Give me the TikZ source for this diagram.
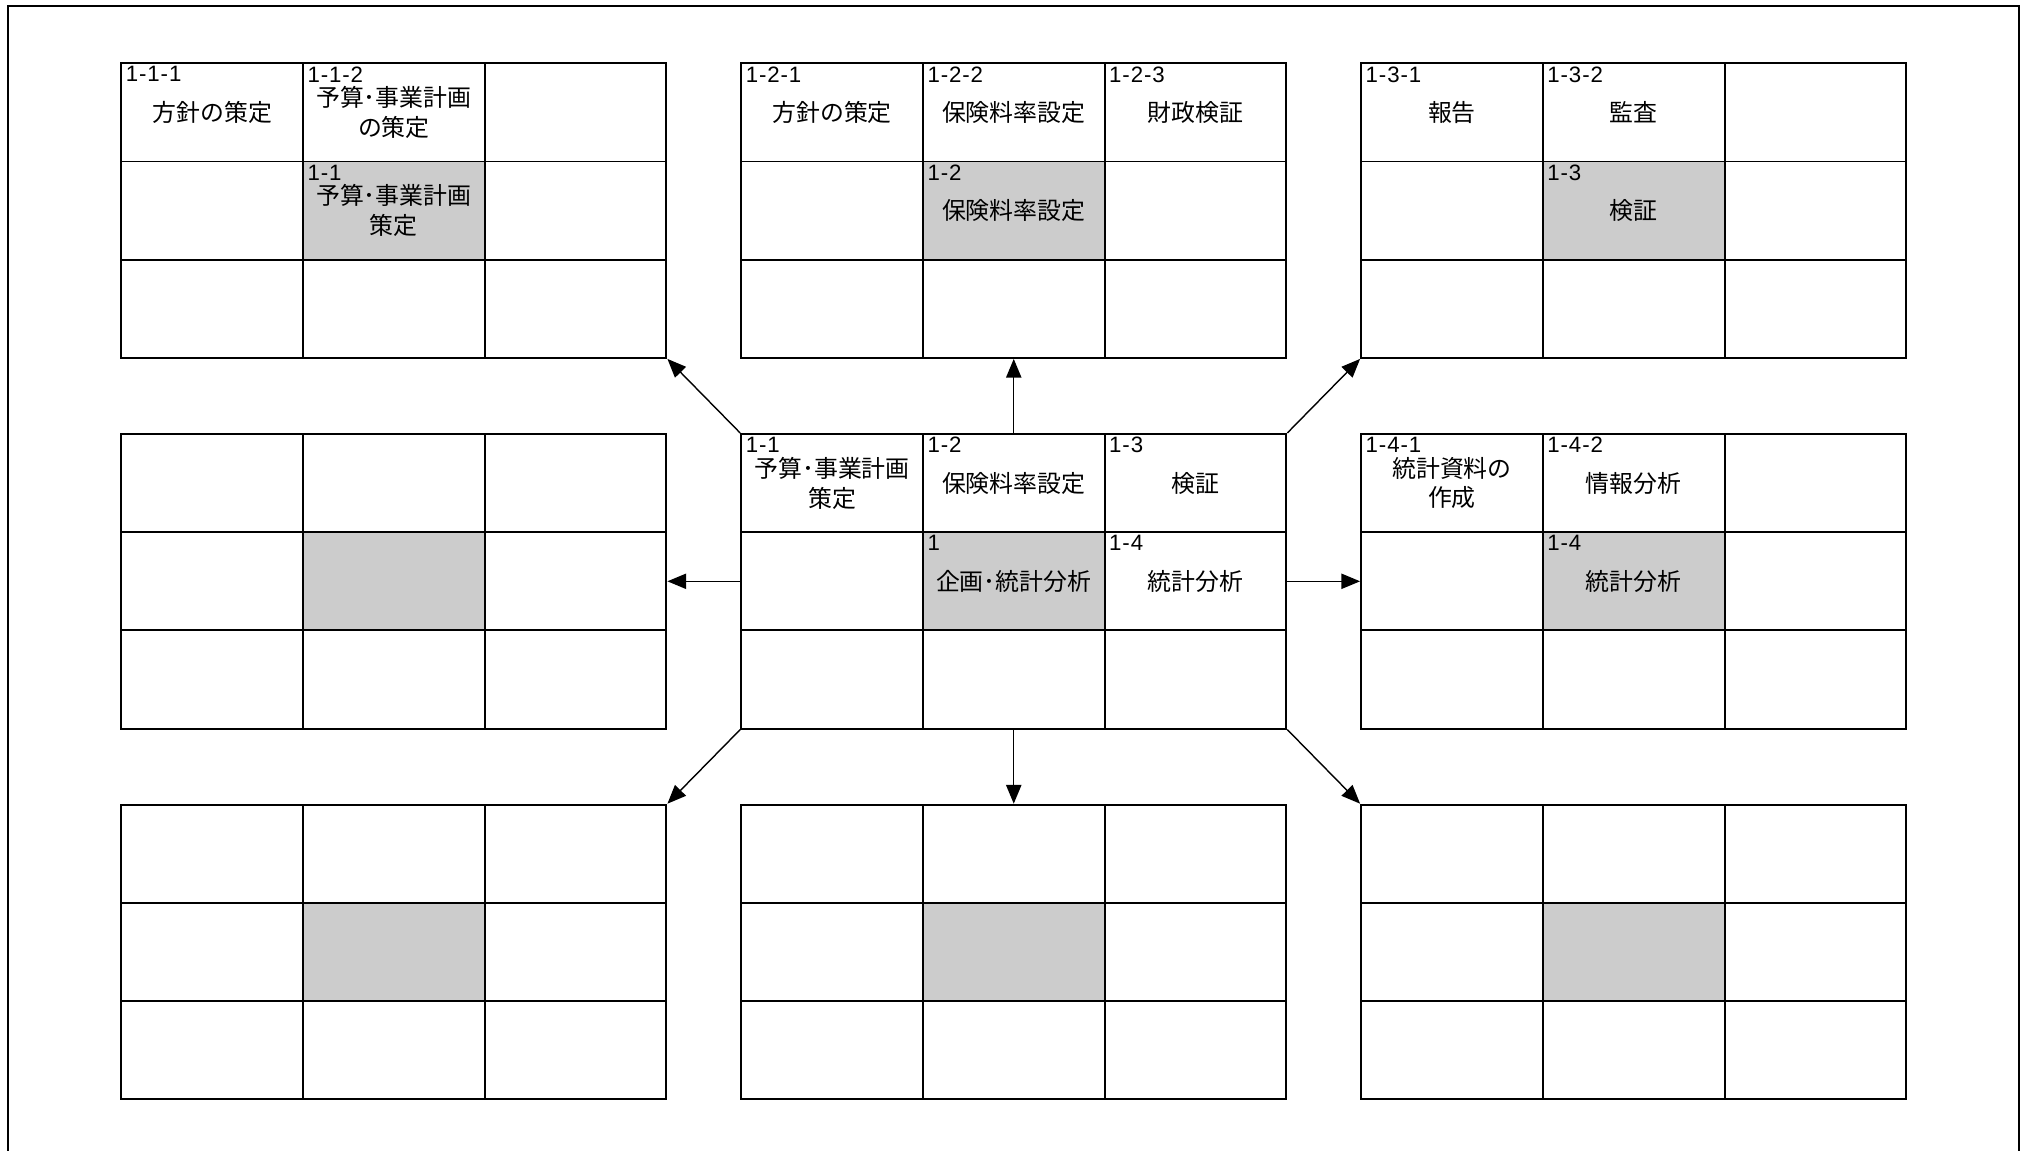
\documentclass[tikz,border=0pt]{standalone}
\usepackage{fontspec}
\setmainfont{Liberation Sans}
\newfontfamily\numfont[LetterSpace=4]{Liberation Sans}
\newfontfamily\jpfont{Noto Sans CJK JP}
\usetikzlibrary{arrows.meta}
\tikzset{
  cell/.style={draw, line width=0.85pt, minimum width=2.7255cm, minimum height=1.473cm, inner sep=0pt},
  num/.style={anchor=north west, inner sep=1.6pt, xshift=0.6pt, font=\numfont\fontsize{9.5}{10}\selectfont},
  txt/.style={align=center, inner sep=0pt, font=\jpfont\fontsize{10.2}{12.7}\selectfont},
  arr/.style={line width=0.6pt, -{Triangle[length=8pt,width=6.5pt]}},
}
\begin{document}
\begin{tikzpicture}[x=0.015cm, y=-0.015cm]
  \useasboundingbox (0,0) rectangle (2025,1151);
  \draw[line width=0.7pt] (8,1160) -- (8,6) -- (2019,6) -- (2019,1160);
  % nine 3x3 grids, the middle cell of each one shaded
  \foreach \g/\gx/\gy in {TL/121.3/63.3, T/741.2/63.3, TR/1361.1/63.3, L/121.3/434, C/741.2/434, R/1361.1/434, BL/121.3/804.7, B/741.2/804.7, BR/1361.1/804.7} {
    \fill[black!20] (\gx+181.7,\gy+98.2) rectangle ++(181.7,98.2);
    \foreach \r in {1,2,3} \foreach \c in {1,2,3}
      \node[cell] (\g\r\c) at (\gx+\c*181.7-90.85, \gy+\r*98.2-49.1) {};
  }
  % number in the corner, task in the middle
  \foreach \k/\n/\t in {TL11/1-1-1/方針の策定, TL12/1-1-2/{予算･事業計画\\の策定}, TL22/1-1/{予算･事業計画\\策定},
      T11/1-2-1/方針の策定, T12/1-2-2/保険料率設定, T13/1-2-3/財政検証, T22/1-2/保険料率設定,
      TR11/1-3-1/報告, TR12/1-3-2/監査, TR22/1-3/検証,
      C11/1-1/{予算･事業計画\\策定}, C12/1-2/保険料率設定, C13/1-3/検証, C22/1/企画･統計分析, C23/1-4/統計分析,
      R11/1-4-1/{統計資料の\\作成}, R12/1-4-2/情報分析, R22/1-4/統計分析} {
    \node[num] (\k-n) at (\k.north west) {\n};
    \node[txt] (\k-t) at (\k) {\t};
  }
  \draw[arr] (C11.north west) -- (TL33.south east);
  \draw[arr] (C12.north) -- (T32.south);
  \draw[arr] (C13.north east) -- (TR31.south west);
  \draw[arr] (C21.west) -- (L23.east);
  \draw[arr] (C23.east) -- (R21.west);
  \draw[arr] (C31.south west) -- (BL13.north east);
  \draw[arr] (C32.south) -- (B12.north);
  \draw[arr] (C33.south east) -- (BR11.north west);
\end{tikzpicture}
\end{document}
